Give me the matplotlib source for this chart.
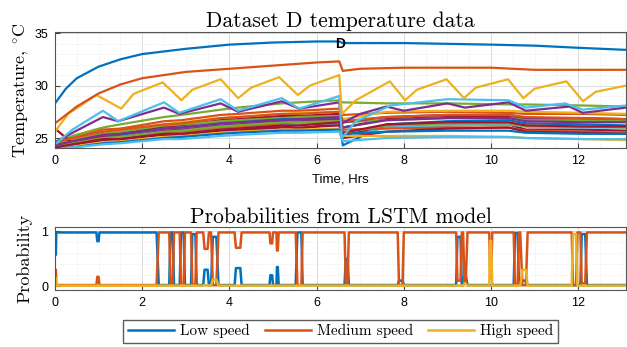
import matplotlib
matplotlib.use('Agg')
import matplotlib.pyplot as plt
from matplotlib.ticker import MultipleLocator

# MATLAB default colours
c_blue = '#0072BD'
c_orange = '#D95319'
c_yellow = '#EDB120'
c_purple = '#7E2F8E'
c_green = '#77AC30'
c_cyan = '#4DBEEE'
c_red = '#A2142F'

# ---- top panel: temperature traces (hours, deg C) ----
t_blue = [0, 0.25, 0.5, 1, 1.5, 2, 3, 4, 5, 6, 6.52, 6.6, 8, 10, 11, 12, 13.1]
T_blue = [28.3, 29.7, 30.7, 31.8, 32.5, 33.0, 33.5, 33.9, 34.1, 34.2, 34.2, 34.05, 34.05, 33.9, 33.8, 33.6, 33.4]

t_orange = [0, 0.5, 1, 1.5, 2, 3, 4, 5, 6, 6.52, 6.6, 7, 8, 10, 11, 12, 13.1]
T_orange = [26.4, 28.0, 29.25, 30.1, 30.7, 31.3, 31.6, 31.9, 32.2, 32.3, 31.4, 31.6, 31.7, 31.7, 31.5, 31.5, 31.5]

t_yellow = [0, 0.3, 0.95, 1.52, 1.8, 2.47, 2.9, 3.15, 3.8, 4.2, 4.5, 5.14, 5.57, 5.85, 6.52,
            6.58, 6.9, 7.68, 8.03, 8.3, 8.98, 9.38, 9.65, 10.39, 10.74, 11.0, 11.73, 12.11, 12.4, 13.1]
T_yellow = [25.6, 27.3, 29.1, 27.8, 29.2, 30.3, 28.6, 29.6, 30.6, 28.8, 29.8, 30.8, 29.1, 30.0, 31.0,
            27.3, 28.6, 30.4, 28.6, 29.6, 30.6, 28.8, 29.8, 30.6, 28.8, 29.7, 30.4, 28.5, 29.4, 30.0]

t_cyan = [0, 0.4, 1.1, 1.45, 2.5, 2.85, 3.8, 4.2, 5.2, 5.6, 6.52, 6.58, 6.9, 7.7, 9.0, 10.4, 10.8, 11.7, 12.1, 13.1]
T_cyan = [24.4, 25.8, 27.6, 26.6, 28.4, 27.4, 28.7, 27.6, 28.8, 27.8, 29.0, 25.0, 26.6, 28.1, 28.7, 28.6, 27.9, 28.3, 27.7, 28.1]

t_purple = [0, 0.4, 1.1, 1.45, 2.5, 2.85, 3.8, 4.2, 5.2, 5.6, 6.52, 6.58, 7.0, 7.6, 8.0, 9.0, 9.4, 10.4, 10.8, 11.8, 12.1, 13.1]
T_purple = [24.6, 25.5, 27.0, 26.6, 27.9, 27.3, 28.3, 27.5, 28.5, 27.8, 28.4, 26.4, 27.3, 28.0, 27.6, 28.3, 27.9, 28.4, 27.6, 28.0, 27.4, 27.9]

# the dense band of sensors
t_band = [0, 0.4, 1.1, 1.5, 2.5, 2.9, 3.8, 4.2, 5.2, 5.6, 6.52, 6.6, 7.6, 9.0, 10.4, 10.8, 12.1, 13.1]
band_colors = [c_green, c_orange, c_yellow, c_red, c_green, c_blue, c_purple, c_red, c_cyan,
               c_orange, c_red, c_yellow, c_blue, c_cyan, c_green, c_purple, c_orange, c_red]
band_vals = [
    [24.6, 25.2, 26.0, 26.3, 27.0, 27.2, 27.7, 27.9, 28.3, 28.4, 28.6, 28.4, 28.3, 28.3, 28.2, 28.2, 28.1, 28.0],
    [24.5, 25.0, 25.8, 25.9, 26.6, 26.7, 27.2, 27.3, 27.6, 27.6, 27.8, 27.2, 27.4, 27.5, 27.4, 27.3, 27.3, 27.2],
    [24.3, 24.8, 25.6, 25.7, 26.3, 26.5, 26.9, 27.0, 27.3, 27.4, 27.5, 26.8, 27.5, 27.6, 27.6, 27.5, 27.4, 27.3],
    [24.2, 24.6, 25.3, 25.4, 26.1, 26.2, 26.7, 26.8, 27.1, 27.1, 27.3, 26.0, 26.8, 27.0, 27.0, 26.8, 26.7, 26.6],
    [24.4, 24.8, 25.4, 25.6, 26.2, 26.3, 26.6, 26.7, 26.9, 27.0, 27.1, 26.5, 26.7, 26.9, 26.9, 26.8, 26.7, 26.6],
    [24.1, 24.5, 25.1, 25.3, 25.9, 26.0, 26.4, 26.5, 26.8, 26.8, 26.9, 24.3, 26.3, 26.6, 26.7, 26.4, 26.3, 26.2],
    [24.0, 24.4, 25.0, 25.1, 25.7, 25.8, 26.2, 26.3, 26.6, 26.6, 26.8, 26.0, 26.7, 26.9, 26.9, 26.6, 26.5, 26.5],
    [25.9, 24.5, 25.1, 24.8, 25.6, 25.2, 26.0, 25.7, 26.2, 25.9, 26.4, 25.3, 26.0, 26.2, 26.3, 25.8, 25.8, 25.7],
    [24.0, 24.2, 24.8, 24.9, 25.4, 25.5, 25.9, 26.0, 26.3, 26.3, 26.4, 25.0, 26.0, 26.2, 26.3, 26.1, 26.0, 26.0],
    [24.1, 24.4, 24.9, 25.0, 25.5, 25.6, 26.0, 26.1, 26.4, 26.5, 26.6, 25.8, 25.9, 26.0, 26.0, 25.7, 25.6, 25.5],
    [24.0, 24.3, 24.8, 24.9, 25.3, 25.3, 25.7, 25.7, 26.0, 26.0, 26.2, 25.0, 25.6, 25.9, 26.0, 25.6, 25.5, 25.4],
    [24.0, 24.2, 24.6, 24.7, 25.1, 25.2, 25.5, 25.6, 25.8, 25.8, 25.9, 25.2, 25.2, 25.2, 25.1, 25.0, 24.9, 24.8],
    [24.0, 24.1, 24.5, 24.6, 25.0, 25.1, 25.4, 25.5, 25.7, 25.7, 25.8, 25.4, 25.6, 25.7, 25.7, 25.5, 25.4, 25.4],
    [24.0, 24.1, 24.4, 24.5, 24.9, 24.9, 25.2, 25.3, 25.5, 25.5, 25.6, 24.7, 25.0, 25.1, 25.1, 25.0, 24.9, 24.9],
    [24.2, 24.5, 25.0, 25.1, 25.6, 25.7, 26.1, 26.2, 26.5, 26.5, 26.6, 25.5, 26.2, 26.4, 26.4, 26.1, 26.1, 26.0],
    [24.3, 24.7, 25.3, 25.4, 25.9, 26.0, 26.4, 26.5, 26.7, 26.8, 27.0, 26.5, 27.0, 27.2, 27.2, 26.9, 26.9, 26.8],
    [24.6, 25.0, 25.6, 25.8, 26.3, 26.4, 26.9, 27.0, 27.3, 27.3, 27.5, 26.6, 27.0, 27.2, 27.2, 27.0, 26.9, 26.8],
    [24.1, 24.4, 24.9, 24.9, 25.4, 25.4, 25.8, 25.9, 26.2, 26.2, 26.5, 25.5, 26.3, 26.5, 26.5, 26.2, 26.1, 26.1],
]

# ---- bottom panel: LSTM class probabilities, piecewise segments ----
seg_t0 = [0.00, 0.03, 0.97, 1.02, 2.38, 2.65, 2.73, 2.89, 2.98, 3.15, 3.25, 3.43, 3.53, 3.62, 3.75, 4.15,
          4.28, 4.94, 5.00, 5.09, 5.13, 5.56, 5.68, 6.67, 6.74, 7.89, 8.00, 9.23, 9.33, 9.39, 9.46,
          9.98, 10.03, 10.55, 10.64, 10.72, 10.84, 11.88, 11.98, 12.08, 12.20]
seg_t1 = [0.02, 0.95, 1.00, 2.33, 2.62, 2.70, 2.86, 2.95, 3.12, 3.22, 3.40, 3.50, 3.58, 3.70, 4.12, 4.25,
          4.92, 4.98, 5.08, 5.11, 5.52, 5.65, 6.64, 6.71, 7.86, 7.97, 9.20, 9.30, 9.36, 9.42, 9.96,
          10.00, 10.52, 10.61, 10.67, 10.80, 11.85, 11.95, 12.05, 12.16, 13.10]
p_low = [0.57, 0.98, 0.82, 0.98, 0.02, 0.98, 0.02, 0.98, 0.02, 0.95, 0.02, 0.30, 0.02, 0.90, 0.02, 0.33,
         0.02, 0.20, 0.02, 0.35, 0.02, 0.98, 0.02, 0.50, 0.02, 0.10, 0.02, 0.90, 0.02, 0.20, 0.02,
         0.02, 0.02, 0.97, 0.02, 0.10, 0.02, 0.02, 0.02, 0.95, 0.02]
p_med = [0.30, 0.02, 0.17, 0.02, 0.98, 0.02, 0.98, 0.02, 0.98, 0.03, 0.98, 0.68, 0.98, 0.02, 0.98, 0.70,
         0.98, 0.78, 0.98, 0.65, 0.98, 0.02, 0.98, 0.05, 0.98, 0.02, 0.98, 0.10, 0.98, 0.05, 0.98,
         0.15, 0.98, 0.02, 0.98, 0.02, 0.98, 0.02, 0.98, 0.05, 0.98]
p_high = [0.15, 0.01, 0.01, 0.01, 0.01, 0.01, 0.01, 0.01, 0.01, 0.01, 0.01, 0.02, 0.01, 0.12, 0.01, 0.01,
          0.01, 0.01, 0.01, 0.01, 0.01, 0.01, 0.01, 0.01, 0.01, 0.01, 0.01, 0.01, 0.01, 0.05, 0.01,
          0.83, 0.01, 0.01, 0.01, 0.30, 0.01, 0.95, 0.01, 0.01, 0.01]

labels = ['Low speed', 'Medium speed', 'High speed']

serif = 'cmr10'
plt.rcParams['mathtext.fontset'] = 'cm'
plt.rcParams['font.family'] = ['Liberation Sans', 'DejaVu Sans']

fig = plt.figure(figsize=(6.27, 3.47), dpi=100)
ax1 = fig.add_axes([0.0877, 0.5735, 0.911, 0.3357])
ax2 = fig.add_axes([0.0877, 0.1643, 0.911, 0.1816])

lw = 1.6
for vals, col in zip(band_vals, band_colors):
    ax1.plot(t_band, vals, color=col, lw=lw)
ax1.plot(t_purple, T_purple, color=c_purple, lw=lw)
ax1.plot(t_cyan, T_cyan, color=c_cyan, lw=lw)
ax1.plot(t_yellow, T_yellow, color=c_yellow, lw=lw)
ax1.plot(t_orange, T_orange, color=c_orange, lw=lw)
ax1.plot(t_blue, T_blue, color=c_blue, lw=lw)
ax1.text(6.55, 34.0, 'D', fontsize=10, fontweight='bold', ha='center', va='center')

ax1.set_xlim(0, 13.1)
ax1.set_ylim(24.05, 35.15)
ax1.set_yticks([25, 30, 35])
ax1.set_title('Dataset D temperature data', family=serif, fontsize=15.5, pad=3)
ax1.set_ylabel(r'Temperature, $^{\circ}$C', family=serif, fontsize=13, labelpad=2)
ax1.set_xlabel('Time, Hrs', fontsize=9.5, labelpad=5)

# probabilities
pt, pl, pm, ph = [], [], [], []
for a, b, l, m, h in zip(seg_t0, seg_t1, p_low, p_med, p_high):
    pt += [a, b]
    pl += [l, l]
    pm += [m, m]
    ph += [h, h]
ax2.plot(pt, pl, color=c_blue, lw=1.8, label=labels[0])
ax2.plot(pt, pm, color=c_orange, lw=1.8, label=labels[1])
ax2.plot(pt, ph, color=c_yellow, lw=1.8, label=labels[2])
ax2.set_xlim(0, 13.1)
ax2.set_ylim(-0.07, 1.08)
ax2.set_yticks([0, 1])
ax2.set_title('Probabilities from LSTM model', family=serif, fontsize=15.5, pad=3)
ax2.set_ylabel('Probability', family=serif, fontsize=13, labelpad=6)

for ax in (ax1, ax2):
    ax.xaxis.set_major_locator(MultipleLocator(2))
    ax.xaxis.set_minor_locator(MultipleLocator(0.5))
    ax.grid(True, which='major', color='#d5d5d5', lw=0.6)
    ax.grid(True, which='minor', color='#e2e2e2', lw=0.5, ls=':')
    ax.set_axisbelow(True)
    ax.tick_params(which='both', direction='in', labelsize=9, color='#444444', pad=5)
    ax.tick_params(which='minor', length=0)
    for s in ax.spines.values():
        s.set_color('#555555')
        s.set_linewidth(0.8)
ax1.yaxis.set_minor_locator(MultipleLocator(1))
ax2.yaxis.set_minor_locator(MultipleLocator(0.2))

fig.legend(loc='center', bbox_to_anchor=(0.5435, 0.045), ncol=3, frameon=True, fancybox=False,
           edgecolor='#333333', handlelength=3.0, columnspacing=1.0, handletextpad=0.4,
           borderpad=0.3, prop={'family': serif, 'size': 11})

fig.savefig('out.png', dpi=100)
